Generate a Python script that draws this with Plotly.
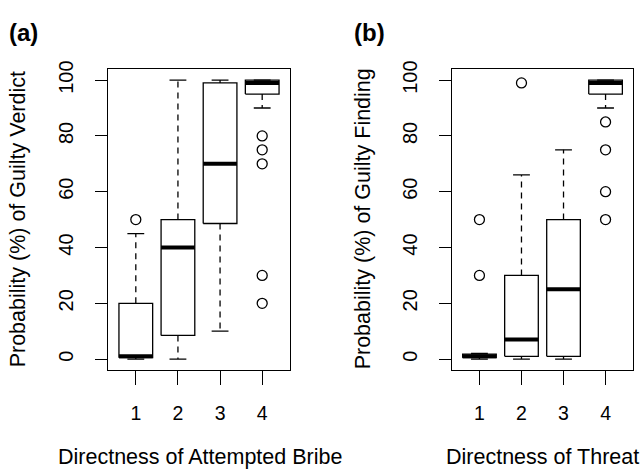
import plotly.graph_objects as go

# ---------------- data ----------------
categories = [1, 2, 3, 4]

# Panel (a): Directness of Attempted Bribe
a_lower = [0, 0, 10, 90]
a_q1 = [0.5, 8.5, 48.6, 95]
a_median = [1, 40, 70, 99]
a_q3 = [20, 50, 99, 100]
a_upper = [45, 100, 100, 100]
a_out_x = [1, 4, 4, 4, 4, 4]
a_out_y = [50, 80, 75, 70, 30, 20]

# Panel (b): Directness of Threat
b_lower = [0, 0, 0, 90]
b_q1 = [0.5, 1, 1, 95]
b_median = [1, 7, 25, 99]
b_q3 = [1.8, 30, 50, 100]
b_upper = [2, 66, 75, 100]
b_out_x = [1, 1, 2, 4, 4, 4, 4]
b_out_y = [50, 30, 99, 85, 75, 60, 50]

y_ticks = [0, 20, 40, 60, 80, 100]
panel_labels = ["(a)", "(b)"]
x_titles = ["Directness of Attempted Bribe", "Directness of Threat"]
y_titles = ["Probability (%) of Guilty Verdict", "Probability (%) of Guilty Finding"]

FONT = "Liberation Sans, Arial, sans-serif"
BOXW = 0.4   # half width of box
CAPW = 0.2   # half width of staple

fig = go.Figure()


def add_panel(xa, ya, lower, q1, med, q3, upper, ox, oy):
    for c, lo, b1, m, b3, up in zip(categories, lower, q1, med, q3, upper):
        # box rectangle
        fig.add_trace(go.Scatter(
            x=[c - BOXW, c + BOXW, c + BOXW, c - BOXW, c - BOXW],
            y=[b1, b1, b3, b3, b1], mode="lines",
            line=dict(color="black", width=1.3), xaxis=xa, yaxis=ya,
            showlegend=False, hoverinfo="skip"))
        # whiskers (dashed)
        if up > b3:
            fig.add_trace(go.Scatter(x=[c, c], y=[b3, up], mode="lines",
                                     line=dict(color="black", width=1.3, dash="6px,5px"),
                                     xaxis=xa, yaxis=ya, showlegend=False, hoverinfo="skip"))
        if lo < b1:
            fig.add_trace(go.Scatter(x=[c, c], y=[b1, lo], mode="lines",
                                     line=dict(color="black", width=1.3, dash="6px,5px"),
                                     xaxis=xa, yaxis=ya, showlegend=False, hoverinfo="skip"))
        # staples
        for v in (lo, up):
            fig.add_trace(go.Scatter(x=[c - CAPW, c + CAPW], y=[v, v], mode="lines",
                                     line=dict(color="black", width=1.3),
                                     xaxis=xa, yaxis=ya, showlegend=False, hoverinfo="skip"))
        # median
        fig.add_trace(go.Scatter(x=[c - BOXW, c + BOXW], y=[m, m], mode="lines",
                                 line=dict(color="black", width=4),
                                 xaxis=xa, yaxis=ya, showlegend=False, hoverinfo="skip"))
    fig.add_trace(go.Scatter(x=ox, y=oy, mode="markers",
                             marker=dict(symbol="circle-open", size=10, color="black",
                                         line=dict(width=1.3, color="black")),
                             xaxis=xa, yaxis=ya, showlegend=False, hoverinfo="skip"))


add_panel("x", "y", a_lower, a_q1, a_median, a_q3, a_upper, a_out_x, a_out_y)
add_panel("x2", "y2", b_lower, b_q1, b_median, b_q3, b_upper, b_out_x, b_out_y)

W, H = 642, 472
ydom = [1 - 368.5 / H, 1 - 62 / H]

xcommon = dict(range=[0.34, 4.66], tickvals=categories, ticktext=[str(c) for c in categories],
               ticks="outside", ticklen=14, tickwidth=1.3, tickcolor="black",
               showline=True, linecolor="black", linewidth=1.3, mirror=True,
               showgrid=False, zeroline=False, ticklabelstandoff=11,
               tickfont=dict(family=FONT, size=19.5, color="black"))
ycommon = dict(range=[-4, 104], tickvals=y_ticks, ticktext=[str(v) for v in y_ticks],
               ticks="outside", ticklen=12, tickwidth=1.3, tickcolor="black",
               showline=True, linecolor="black", linewidth=1.3, mirror=True,
               showgrid=False, zeroline=False, tickangle=-90, ticklabelstandoff=14,
               tickfont=dict(family=FONT, size=20, color="black"))

fig.update_layout(
    width=W, height=H, margin=dict(l=0, r=0, t=0, b=0),
    paper_bgcolor="white", plot_bgcolor="white",
    xaxis=dict(domain=[108 / W, 290 / W], anchor="y", **xcommon),
    yaxis=dict(domain=ydom, anchor="x", **ycommon),
    xaxis2=dict(domain=[451.7 / W, 633.3 / W], anchor="y2", **xcommon),
    yaxis2=dict(domain=ydom, anchor="x2", **ycommon),
)

ann = []
# panel labels
ann.append(dict(x=7 / W, y=1 - 25 / H, text="<b>%s</b>" % panel_labels[0], xanchor="left", yanchor="middle"))
ann.append(dict(x=352 / W, y=1 - 25 / H, text="<b>%s</b>" % panel_labels[1], xanchor="left", yanchor="middle"))
for a in ann:
    a.update(xref="paper", yref="paper", showarrow=False,
             font=dict(family=FONT, size=24, color="black"))
# x titles
for cx, t in zip([200, 542], x_titles):
    ann.append(dict(x=cx / W, y=1 - 457 / H, text=t, xref="paper", yref="paper",
                    showarrow=False, xanchor="center", yanchor="middle",
                    font=dict(family=FONT, size=21.5, color="black")))
# y titles
for cx, t in zip([18, 363], y_titles):
    ann.append(dict(x=cx / W, y=1 - 215 / H, text=t, xref="paper", yref="paper",
                    showarrow=False, xanchor="center", yanchor="middle", textangle=-90,
                    font=dict(family=FONT, size=21.5, color="black")))
fig.update_layout(annotations=ann)

fig.write_html("out.html")
